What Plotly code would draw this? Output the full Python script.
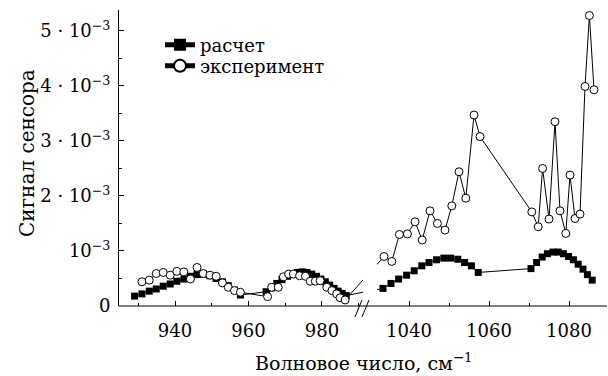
import plotly.graph_objects as go

# Signal values in units of 1e-3
# ---- calculated (расчет) ----
calc_x_left = [929.0, 931.0, 933.0, 934.9, 936.8, 938.7, 940.5, 942.4, 944.2, 946.0, 947.7, 949.5,
               951.2, 952.9, 954.5, 956.2, 957.8,
               964.8, 966.3, 967.7, 969.1, 970.6, 971.9, 973.3, 974.6, 975.9, 977.2, 978.5, 979.7,
               980.9, 982.1, 983.3, 984.4, 985.5, 986.6]
calc_y_left = [0.18, 0.22, 0.27, 0.31, 0.36, 0.40, 0.45, 0.49, 0.54, 0.57, 0.58, 0.55,
               0.50, 0.44, 0.37, 0.29, 0.20,
               0.26, 0.33, 0.41, 0.48, 0.54, 0.58, 0.61, 0.62, 0.61, 0.58, 0.54, 0.49,
               0.44, 0.38, 0.32, 0.27, 0.23, 0.19]
calc_x_right = [1033.5, 1035.5, 1037.4, 1039.4, 1041.3, 1043.2, 1045.0, 1046.9, 1048.7, 1050.4,
                1052.2, 1053.9, 1055.6, 1057.3,
                1070.5, 1071.9, 1073.3, 1074.6, 1076.0, 1077.3, 1078.6, 1079.9, 1081.1, 1082.3,
                1083.5, 1084.6, 1085.8]
calc_y_right = [0.32, 0.41, 0.49, 0.56, 0.64, 0.73, 0.79, 0.84, 0.87, 0.87, 0.85, 0.79, 0.73, 0.61,
                0.68, 0.79, 0.89, 0.95, 0.98, 0.98, 0.95, 0.90, 0.84, 0.76, 0.67, 0.57, 0.47]

# ---- experiment (эксперимент) ----
exp_x_left = [931.0, 933.0, 934.9, 936.8, 938.7, 940.5, 942.4, 944.2, 946.0, 947.7, 949.5, 951.2,
              952.9, 954.5, 956.2, 957.8,
              965.2, 966.3, 968.1, 969.5, 970.9, 972.2, 973.9, 975.5, 976.8, 978.2, 979.5, 981.3,
              982.7, 984.0, 984.9, 986.3]
exp_y_left = [0.44, 0.47, 0.59, 0.61, 0.56, 0.63, 0.62, 0.49, 0.70, 0.59, 0.56, 0.54,
              0.42, 0.34, 0.28, 0.25,
              0.17, 0.34, 0.34, 0.53, 0.58, 0.58, 0.55, 0.54, 0.45, 0.45, 0.46, 0.34,
              0.28, 0.22, 0.15, 0.11]
exp_x_right = [1033.75, 1035.7, 1037.6, 1039.6, 1041.5, 1043.3, 1045.25, 1047.1, 1049.0, 1050.7,
               1052.5, 1054.2, 1056.25, 1057.75,
               1070.7, 1072.3, 1073.4, 1075.0, 1076.5, 1077.75, 1079.2, 1080.25, 1081.5, 1082.75,
               1084.0, 1085.1, 1086.25]
exp_y_right = [0.90, 0.81, 1.30, 1.31, 1.53, 1.20, 1.73, 1.50, 1.38, 1.82, 2.44, 1.96, 3.47, 3.08,
               1.71, 1.44, 2.50, 1.58, 3.35, 1.73, 1.32, 2.38, 1.59, 1.67, 3.99, 5.28, 3.93]

x_ticks_left = [940, 960, 980]
x_ticks_right = [1040, 1060, 1080]
y_ticks = [0, 1, 2, 3, 4, 5]
y_ticktext = ["0", "10<sup>−3</sup>", "2 · 10<sup>−3</sup>", "3 · 10<sup>−3</sup>",
              "4 · 10<sup>−3</sup>", "5 · 10<sup>−3</sup>"]

# ---- layout geometry (broken x axis) ----
W, H = 608, 376
ML, MR, MT, MB = 119, 1, 10, 70
PW = W - ML - MR
PH = H - MT - MB
L_RANGE = [924.76, 991.16]
R_RANGE = [1032.0, 1089.5]
L_DOM = [0.0, 244 / PW]
R_DOM = [258 / PW, 1.0]
Y_RANGE = [0, 5.38]

FONT = "DejaVu Serif"
TICK_SIZE = 18
TITLE_SIZE = 19
YTITLE_SIZE = 20
LEG_SIZE = 18


def frac_left(x):
    return L_DOM[0] + (x - L_RANGE[0]) / (L_RANGE[1] - L_RANGE[0]) * (L_DOM[1] - L_DOM[0])


def frac_right(x):
    return R_DOM[0] + (x - R_RANGE[0]) / (R_RANGE[1] - R_RANGE[0]) * (R_DOM[1] - R_DOM[0])


def left_from_frac(f):
    return L_RANGE[0] + (f - L_DOM[0]) / (L_DOM[1] - L_DOM[0]) * (L_RANGE[1] - L_RANGE[0])


def right_from_frac(f):
    return R_RANGE[0] + (f - R_DOM[0]) / (R_DOM[1] - R_DOM[0]) * (R_RANGE[1] - R_RANGE[0])


calc_style = dict(mode="lines+markers", line=dict(color="black", width=1),
                  marker=dict(symbol="square", size=7, color="black"))
exp_style = dict(mode="lines+markers", line=dict(color="black", width=1),
                 marker=dict(symbol="circle", size=8, color="white",
                             line=dict(color="black", width=1)))

fig = go.Figure()

# connectors across the axis break (straight in screen space, clipped by each panel)
for xs_l, ys_l, xs_r, ys_r in [(calc_x_left, calc_y_left, calc_x_right, calc_y_right),
                               (exp_x_left, exp_y_left, exp_x_right, exp_y_right)]:
    xa, ya = xs_l[-1], ys_l[-1]
    xb, yb = xs_r[0], ys_r[0]
    fig.add_trace(go.Scatter(x=[xa, left_from_frac(frac_right(xb))], y=[ya, yb], mode="lines",
                             line=dict(color="black", width=1), showlegend=False,
                             hoverinfo="skip", xaxis="x", yaxis="y"))
    fig.add_trace(go.Scatter(x=[right_from_frac(frac_left(xa)), xb], y=[ya, yb], mode="lines",
                             line=dict(color="black", width=1), showlegend=False,
                             hoverinfo="skip", xaxis="x2", yaxis="y"))

fig.add_trace(go.Scatter(x=calc_x_left, y=calc_y_left, name="расчет", legend="legend",
                         xaxis="x", yaxis="y", **calc_style))
fig.add_trace(go.Scatter(x=calc_x_right, y=calc_y_right, name="расчет",
                         showlegend=False, xaxis="x2", yaxis="y", **calc_style))
fig.add_trace(go.Scatter(x=exp_x_left, y=exp_y_left, name="эксперимент", legend="legend2",
                         xaxis="x", yaxis="y", **exp_style))
fig.add_trace(go.Scatter(x=exp_x_right, y=exp_y_right, name="эксперимент",
                         showlegend=False, xaxis="x2", yaxis="y", **exp_style))

xcommon = dict(showline=False, showgrid=False, zeroline=False, ticks="inside", ticklen=5,
               tickwidth=1, tickcolor="black", anchor="y",
               tickfont=dict(family=FONT, size=TICK_SIZE, color="black"), ticklabelstandoff=12)

leg_common = dict(xanchor="left", yanchor="middle", bgcolor="rgba(0,0,0,0)",
                  font=dict(family=FONT, size=LEG_SIZE, color="black"),
                  itemsizing="constant", borderwidth=0)

fig.update_layout(
    width=W, height=H,
    margin=dict(l=ML, r=MR, t=MT, b=MB),
    paper_bgcolor="white", plot_bgcolor="white",
    font=dict(family=FONT, color="black", size=TICK_SIZE),
    xaxis=dict(domain=L_DOM, range=L_RANGE, tickvals=x_ticks_left,
               minor=dict(tickvals=[930, 950, 970, 990], ticks="inside", ticklen=3,
                          tickcolor="black"), **xcommon),
    xaxis2=dict(domain=R_DOM, range=R_RANGE, tickvals=x_ticks_right,
                minor=dict(tickvals=[1050, 1070, 1090], ticks="inside", ticklen=3,
                           tickcolor="black"), **xcommon),
    yaxis=dict(range=Y_RANGE, showline=True, linecolor="black", linewidth=1, showgrid=False,
               zeroline=False, ticks="inside", ticklen=5, tickcolor="black",
               tickvals=y_ticks, ticktext=y_ticktext,
               minor=dict(tickvals=[0.5, 1.5, 2.5, 3.5, 4.5], ticks="inside", ticklen=3,
                          tickcolor="black"),
               tickfont=dict(family=FONT, size=TICK_SIZE, color="black"), ticklabelstandoff=4,
               anchor="x"),
    legend=dict(x=(160 - ML) / PW, y=(MT + PH - 45) / PH, **leg_common),
    legend2=dict(x=(160 - ML) / PW, y=(MT + PH - 66) / PH, **leg_common),
    showlegend=True,
    annotations=[
        dict(text="Волновое число, см<sup>−1</sup>", xref="paper", yref="paper",
             x=0.5, y=-(362 - (MT + PH)) / PH, xanchor="center", yanchor="middle",
             showarrow=False, font=dict(family=FONT, size=TITLE_SIZE, color="black")),
        dict(text="Сигнал сенсора", xref="paper", yref="paper", textangle=-90,
             x=(27 - ML) / PW, y=(MT + PH - 153) / PH, xanchor="center", yanchor="middle",
             showarrow=False, font=dict(family=FONT, size=YTITLE_SIZE, color="black")),
    ],
    shapes=[
        dict(type="line", xref="paper", yref="paper", x0=0, x1=1, y0=0, y1=0,
             line=dict(color="black", width=1)),
        dict(type="line", xref="paper", yref="paper",
             x0=(355 - ML) / PW, x1=(362 - ML) / PW, y0=-11 / PH, y1=6 / PH,
             line=dict(color="black", width=1)),
        dict(type="line", xref="paper", yref="paper",
             x0=(362 - ML) / PW, x1=(369 - ML) / PW, y0=-11 / PH, y1=6 / PH,
             line=dict(color="black", width=1)),
    ],
)

fig.write_html("out.html")
